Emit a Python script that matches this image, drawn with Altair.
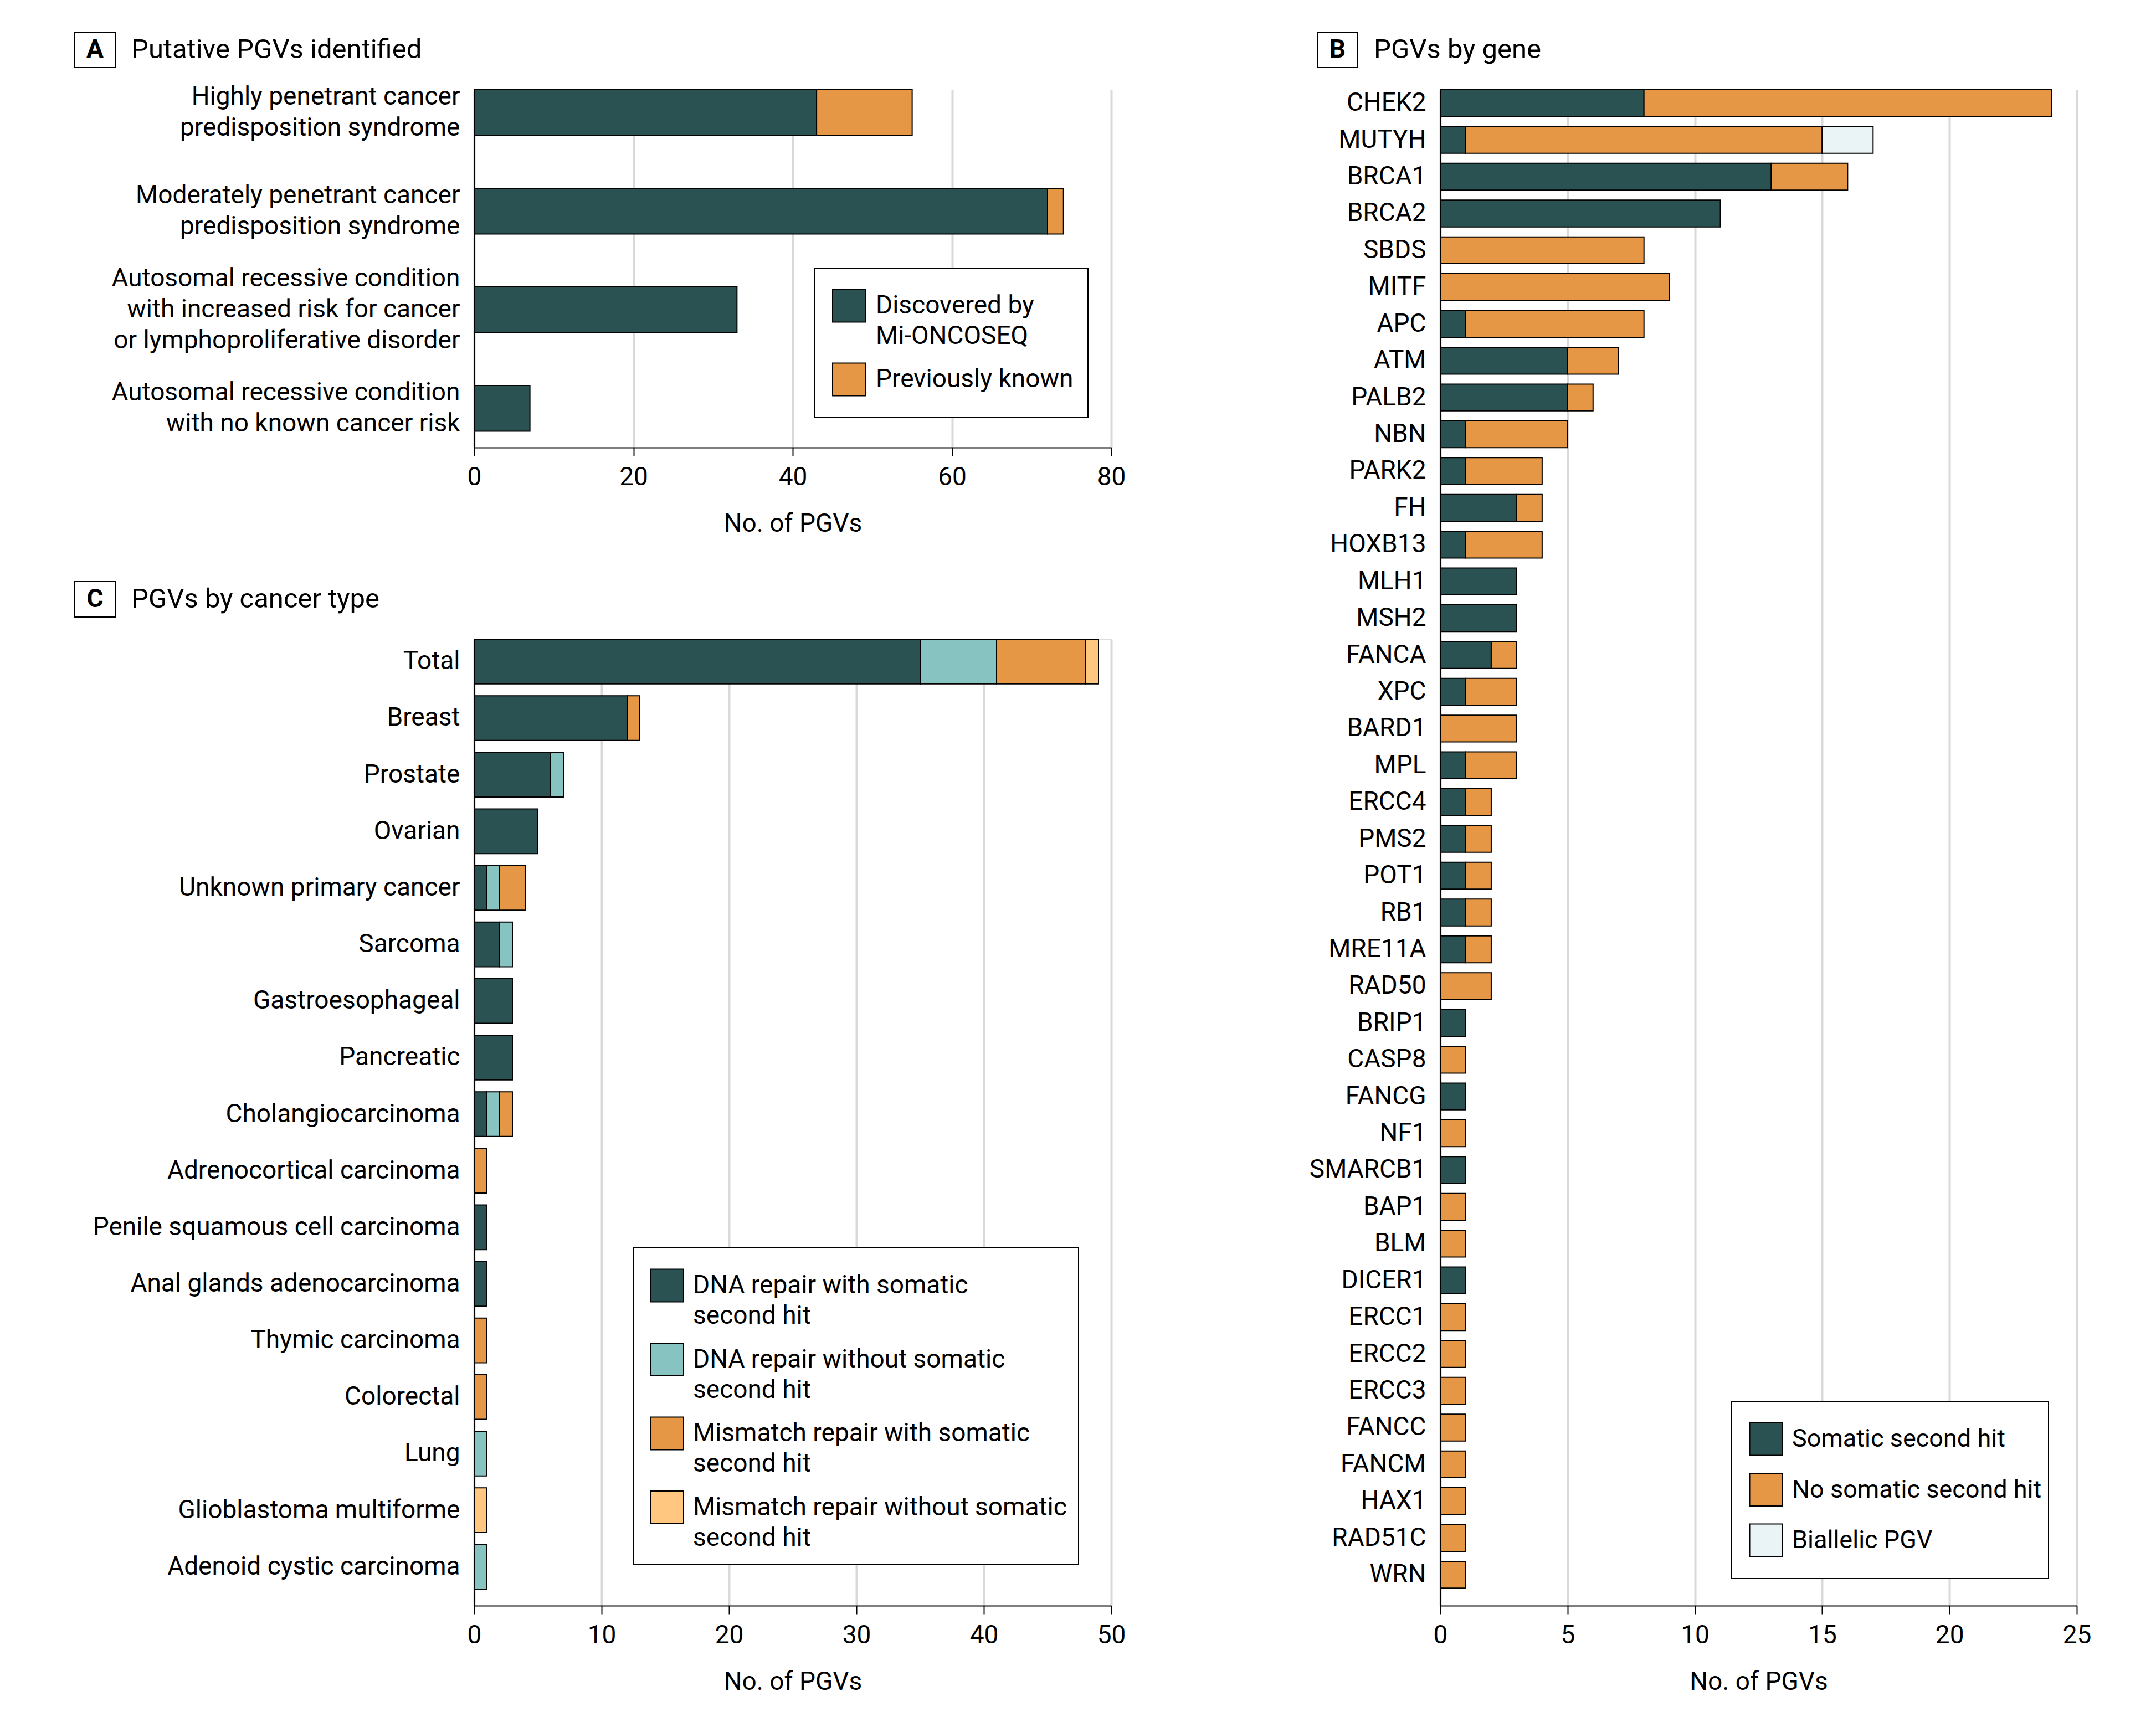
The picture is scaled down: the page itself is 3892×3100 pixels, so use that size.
import altair as alt
import pandas as pd

FONT = "Roboto"
DARK = "#2A5252"
TEAL = "#86C3C1"
ORANGE = "#E69745"
LIGHT_OR = "#FFC77F"
BIALLELIC = "#EAF3F5"
GRID = "#D9D9D9"
FS = 46

# ---------------- Panel A data ----------------
a_categories = [
    "Highly penetrant cancer\npredisposition syndrome",
    "Moderately penetrant cancer\npredisposition syndrome",
    "Autosomal recessive condition\nwith increased risk for cancer\nor lymphoproliferative disorder",
    "Autosomal recessive condition\nwith no known cancer risk",
]
a_series = ["Discovered by Mi-ONCOSEQ", "Previously known"]
a_legend_lines = [["Discovered by", "Mi-ONCOSEQ"], ["Previously known"]]
a_discovered = [43, 72, 33, 7]
a_known = [12, 2, 0, 0]
a_ticks = [0, 20, 40, 60, 80]

# ---------------- Panel B data ----------------
b_genes = ["CHEK2", "MUTYH", "BRCA1", "BRCA2", "SBDS", "MITF", "APC", "ATM", "PALB2", "NBN",
           "PARK2", "FH", "HOXB13", "MLH1", "MSH2", "FANCA", "XPC", "BARD1", "MPL", "ERCC4",
           "PMS2", "POT1", "RB1", "MRE11A", "RAD50", "BRIP1", "CASP8", "FANCG", "NF1", "SMARCB1",
           "BAP1", "BLM", "DICER1", "ERCC1", "ERCC2", "ERCC3", "FANCC", "FANCM", "HAX1", "RAD51C", "WRN"]
b_series = ["Somatic second hit", "No somatic second hit", "Biallelic PGV"]
b_somatic = [8, 1, 13, 11, 0, 0, 1, 5, 5, 1,
             1, 3, 1, 3, 3, 2, 1, 0, 1, 1,
             1, 1, 1, 1, 0, 1, 0, 1, 0, 1,
             0, 0, 1, 0, 0, 0, 0, 0, 0, 0, 0]
b_no_somatic = [16, 14, 3, 0, 8, 9, 7, 2, 1, 4,
                3, 1, 3, 0, 0, 1, 2, 3, 2, 1,
                1, 1, 1, 1, 2, 0, 1, 0, 1, 0,
                1, 1, 0, 1, 1, 1, 1, 1, 1, 1, 1]
b_biallelic = [0, 2] + [0] * 39
b_ticks = [0, 5, 10, 15, 20, 25]

# ---------------- Panel C data ----------------
c_types = ["Total", "Breast", "Prostate", "Ovarian", "Unknown primary cancer", "Sarcoma",
           "Gastroesophageal", "Pancreatic", "Cholangiocarcinoma", "Adrenocortical carcinoma",
           "Penile squamous cell carcinoma", "Anal glands adenocarcinoma", "Thymic carcinoma",
           "Colorectal", "Lung", "Glioblastoma multiforme", "Adenoid cystic carcinoma"]
c_series = ["DNA repair with somatic second hit", "DNA repair without somatic second hit",
            "Mismatch repair with somatic second hit", "Mismatch repair without somatic second hit"]
c_legend_lines = [["DNA repair with somatic", "second hit"], ["DNA repair without somatic", "second hit"],
                  ["Mismatch repair with somatic", "second hit"], ["Mismatch repair without somatic", "second hit"]]
c_dna_with = [35, 12, 6, 5, 1, 2, 3, 3, 1, 0, 1, 1, 0, 0, 0, 0, 0]
c_dna_without = [6, 0, 1, 0, 1, 1, 0, 0, 1, 0, 0, 0, 0, 0, 1, 0, 1]
c_mmr_with = [7, 1, 0, 0, 2, 0, 0, 0, 1, 1, 0, 0, 1, 1, 0, 0, 0]
c_mmr_without = [1, 0, 0, 0, 0, 0, 0, 0, 0, 0, 0, 0, 0, 0, 0, 1, 0]
c_ticks = [0, 10, 20, 30, 40, 50]


def long_df(cats, series, cols):
    rows = []
    for i, c in enumerate(cats):
        for j, s in enumerate(series):
            v = cols[j][i]
            if v > 0:
                rows.append({"category": c, "series": s, "value": v, "order": j})
    return pd.DataFrame(rows)


def bar_layer(df, cats, series, colors, xmax, ticks, pi, po, y_extent, multiline=False):
    yaxis = dict(title=None, ticks=False, domain=True, domainColor="black", domainWidth=2,
                 labelPadding=26, labelFontSize=FS, labelFont=FONT, labelColor="black",
                 labelLimit=3000, minExtent=y_extent, maxExtent=y_extent, grid=False)
    if multiline:
        yaxis["labelExpr"] = "split(datum.label, '\\n')"
        yaxis["labelLineHeight"] = 56
        yaxis["labelOffset"] = {
            "condition": {"test": "length(split(datum.label, '\\n')) > 2", "value": -56},
            "value": -28,
        }
    return alt.Chart(df).mark_bar(stroke="black", strokeWidth=2).encode(
        y=alt.Y("category:N", sort=cats,
                scale=alt.Scale(domain=cats, paddingInner=pi, paddingOuter=po, align=0),
                axis=alt.Axis(**yaxis)),
        x=alt.X("value:Q", stack="zero", scale=alt.Scale(domain=[0, xmax], nice=False),
                axis=alt.Axis(values=ticks, title="No. of PGVs", titleFontSize=FS, titleFont=FONT,
                              titleFontWeight="normal", titleColor="black", titlePadding=39,
                              grid=True, gridColor=GRID, gridWidth=4, domainColor="black",
                              domainWidth=2, tickColor="black", tickWidth=2, tickSize=15,
                              labelPadding=16, labelFontSize=FS, labelFont=FONT,
                              labelColor="black", labelFlush=False, format="d")),
        color=alt.Color("series:N", scale=alt.Scale(domain=series, range=colors), legend=None),
        order=alt.Order("order:Q", sort="ascending"),
    )


def title_layers(letter, text, bx0, by0=-104, bw=73, bh=64):
    one = pd.DataFrame({"letter": [letter], "title": [text]})
    box = alt.Chart(one).mark_rect(fill="white", stroke="black", strokeWidth=2).encode(
        x=alt.value(bx0), x2=alt.value(bx0 + bw), y=alt.value(by0), y2=alt.value(by0 + bh))
    let = alt.Chart(one).mark_text(fontSize=FS, font=FONT, fontWeight="bold", color="black",
                                   align="center", baseline="middle").encode(
        x=alt.value(bx0 + bw / 2), y=alt.value(by0 + bh / 2), text="letter:N")
    tt = alt.Chart(one).mark_text(fontSize=49, font=FONT, color="black", align="left",
                                  baseline="middle").encode(
        x=alt.value(bx0 + bw + 29), y=alt.value(by0 + bh / 2), text="title:N")
    return [box, let, tt]


def legend_layers(series, colors, lines, box, sw_x, first_y, step, line_h, text_x, fs=FS):
    x0, x1, y0, y1 = box
    sw_rows, tx_rows = [], []
    for k, s in enumerate(series):
        yk = first_y + k * step
        sw_rows.append({"series": s, "py": yk})
        for m, ln in enumerate(lines[k]):
            tx_rows.append({"text": ln, "py": yk + m * line_h})
    one = pd.DataFrame({"k": [0]})
    frame = alt.Chart(one).mark_rect(fill="white", stroke="black", strokeWidth=2).encode(
        x=alt.value(x0), x2=alt.value(x1), y=alt.value(y0), y2=alt.value(y1))
    sw = alt.Chart(pd.DataFrame(sw_rows)).mark_square(size=59 * 59, stroke="black", strokeWidth=2,
                                                       opacity=1, filled=True).encode(
        x=alt.value(sw_x), y=alt.Y("py:Q", scale=None, axis=None),
        color=alt.Color("series:N", scale=alt.Scale(domain=series, range=colors), legend=None))
    tx = alt.Chart(pd.DataFrame(tx_rows)).mark_text(fontSize=fs, font=FONT, color="black",
                                                    align="left", baseline="middle").encode(
        x=alt.value(text_x), y=alt.Y("py:Q", scale=None, axis=None), text="text:N")
    return [frame, sw, tx]


# ---------------- Panel A ----------------
a_colors = [DARK, ORANGE]
a_df = long_df(a_categories, a_series, [a_discovered, a_known])
panel_a = alt.layer(
    bar_layer(a_df, a_categories, a_series, a_colors, 80, a_ticks, 0.536, 0.083, 847, multiline=True),
    *legend_layers(a_series, a_colors, a_legend_lines, (614, 1108, 323, 592), 676.5, 390, 133, 55, 725),
    *title_layers("A", "Putative PGVs identified", -721),
).properties(width=1150, height=646)

# ---------------- Panel C ----------------
c_colors = [DARK, TEAL, ORANGE, LIGHT_OR]
c_df = long_df(c_types, c_series, [c_dna_with, c_dna_without, c_mmr_with, c_mmr_without])
panel_c = alt.layer(
    bar_layer(c_df, c_types, c_series, c_colors, 50, c_ticks, 0.21, 0.1466, 847),
    *legend_layers(c_series, c_colors, c_legend_lines, (287, 1091, 1099, 1670), 348.5, 1167, 133.5, 55, 395),
    *title_layers("C", "PGVs by cancer type", -721),
).properties(width=1150, height=1745)

# ---------------- Panel B ----------------
b_colors = [DARK, ORANGE, BIALLELIC]
b_df = long_df(b_genes, b_series, [b_somatic, b_no_somatic, b_biallelic])
panel_b = alt.layer(
    bar_layer(b_df, b_genes, b_series, b_colors, 25, b_ticks, 0.271, 0.2385, 240),
    *legend_layers(b_series, b_colors, [[s] for s in b_series], (525, 1098, 2369, 2688), 588, 2436, 91.5, 55, 635, fs=45),
    *title_layers("B", "PGVs by gene", -222),
).properties(width=1149, height=2737)

left = alt.vconcat(panel_a, panel_c, spacing=79).resolve_scale(color="independent")
right = alt.vconcat(panel_b).resolve_scale(color="independent")
chart = alt.hconcat(left, right, spacing=326).resolve_scale(color="independent").properties(
    padding={"left": 0, "top": 48, "right": 10, "bottom": 10},
    background="white",
).configure_view(stroke=None).configure(font=FONT)

chart.save("out.html", embed_options={"renderer": "svg", "actions": False})
